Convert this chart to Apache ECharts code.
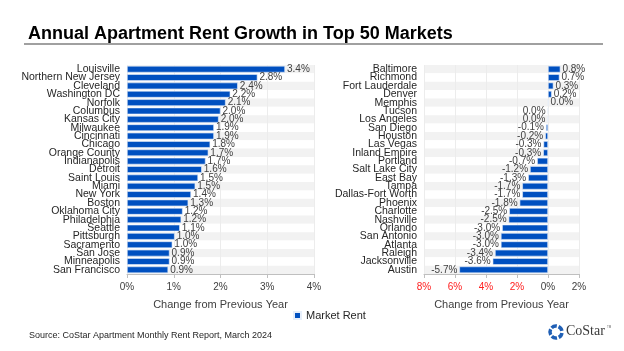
<!DOCTYPE html>
<html>
<head>
<meta charset="utf-8">
<script src="https://cdn.jsdelivr.net/npm/echarts@6/dist/echarts.min.js"></script>
<style>
  html, body { margin: 0; padding: 0; background: #fff; }
  #chart { width: 624px; height: 351px; }
</style>
</head>
<body>
<div id="chart"></div>
<script>
// top 25 markets (left panel)
const leftMarkets = ['Louisville', 'Northern New Jersey', 'Cleveland', 'Washington DC', 'Norfolk', 'Columbus',
  'Kansas City', 'Milwaukee', 'Cincinnati', 'Chicago', 'Orange County', 'Indianapolis', 'Detroit',
  'Saint Louis', 'Miami', 'New York', 'Boston', 'Oklahoma City', 'Philadelphia', 'Seattle',
  'Pittsburgh', 'Sacramento', 'San Jose', 'Minneapolis', 'San Francisco']
const leftGrowth = [3.38, 2.79, 2.37, 2.21, 2.11, 2.0, 1.96, 1.86, 1.86, 1.78, 1.74, 1.68, 1.6,
  1.52, 1.46, 1.37, 1.31, 1.19, 1.16, 1.13, 1.02, 0.97, 0.91, 0.91, 0.88]

// bottom 25 markets (right panel)
const rightMarkets = ['Baltimore', 'Richmond', 'Fort Lauderdale', 'Denver', 'Memphis', 'Tucson',
  'Los Angeles', 'San Diego', 'Houston', 'Las Vegas', 'Inland Empire', 'Portland', 'Salt Lake City',
  'East Bay', 'Tampa', 'Dallas-Fort Worth', 'Phoenix', 'Charlotte', 'Nashville', 'Orlando',
  'San Antonio', 'Atlanta', 'Raleigh', 'Jacksonville', 'Austin']
const rightGrowth = [0.8, 0.74, 0.35, 0.24, 0.02, -0.02, -0.03, -0.13, -0.18, -0.29, -0.31, -0.7, -1.16,
  -1.28, -1.66, -1.66, -1.83, -2.5, -2.54, -2.96, -3.04, -3.04, -3.42, -3.57, -5.72]

const leftTicks = { min: 0, max: 4, interval: 1 }
const rightTicks = { min: -8, max: 2, interval: 2 }

const FONT = '"Liberation Sans", Arial, sans-serif'
const BLUE = '#0050c0'

const pct = (v) => (Math.abs(v) < 0.05 ? 0 : v).toFixed(1) + '%'

function catAxis(gridIndex, names) {
  return {
    type: 'category',
    gridIndex: gridIndex,
    data: names,
    inverse: true,
    axisLine: { show: false },
    axisTick: { show: false },
    axisLabel: { color: '#262626', fontSize: 10.5, fontFamily: FONT, margin: 7, interval: 0 },
    splitArea: { show: true, areaStyle: { color: ['#f2f2f2', '#ffffff'] } }
  }
}

function valAxis(gridIndex, ticks, negRed) {
  return {
    type: 'value',
    gridIndex: gridIndex,
    min: ticks.min,
    max: ticks.max,
    interval: ticks.interval,
    name: 'Change from Previous Year',
    nameLocation: 'middle',
    nameGap: 25,
    nameTextStyle: { color: '#404040', fontSize: 11, fontFamily: FONT },
    axisLine: { show: true, lineStyle: { color: '#bfbfbf' } },
    axisTick: { show: true, length: 4, lineStyle: { color: '#bfbfbf' } },
    splitLine: { show: true, lineStyle: { color: '#ececec' } },
    axisLabel: {
      fontSize: 10,
      fontFamily: FONT,
      margin: 8,
      formatter: (v) => negRed && v < 0 ? '{neg|' + Math.abs(v) + '%}' : Math.abs(v) + '%',
      color: '#404040',
      rich: { neg: { color: '#ff2020', fontSize: 10, fontFamily: FONT } }
    }
  }
}

function barSeries(idx, values) {
  return {
    name: 'Market Rent',
    type: 'bar',
    xAxisIndex: idx,
    yAxisIndex: idx,
    barCategoryGap: '20%',
    itemStyle: { color: BLUE, borderColor: '#e6eefa', borderWidth: 0.6 },
    data: values.map(v => ({ value: v, label: { position: v < 0 ? 'left' : 'right' } })),
    label: {
      show: true,
      distance: 2,
      color: '#404040',
      fontSize: 10,
      fontFamily: FONT,
      formatter: (p) => pct(p.value)
    }
  }
}

const chart = echarts.init(document.getElementById('chart'))

chart.setOption({
  animation: false,
  textStyle: { fontFamily: FONT },
  title: [
    {
      text: 'Annual Apartment Rent Growth in Top 50 Markets',
      left: 23, top: 20,
      textStyle: { fontSize: 18, fontWeight: 'bold', color: '#000', fontFamily: FONT }
    },
    {
      text: 'Source: CoStar Apartment Monthly Rent Report, March 2024',
      left: 24, top: 326,
      textStyle: { fontSize: 9, fontWeight: 'normal', color: '#262626', fontFamily: FONT }
    }
  ],
  legend: {
    data: ['Market Rent'],
    left: 288, top: 305,
    icon: 'rect', itemWidth: 7, itemHeight: 7, itemGap: 4,
    textStyle: { fontSize: 11, color: '#262626', fontFamily: FONT }
  },
  grid: [
    { left: 127, top: 65, width: 187, height: 209 },
    { left: 424, top: 65, width: 155, height: 209 }
  ],
  xAxis: [valAxis(0, leftTicks, false), valAxis(1, rightTicks, true)],
  yAxis: [catAxis(0, leftMarkets), catAxis(1, rightMarkets)],
  series: [barSeries(0, leftGrowth), barSeries(1, rightGrowth)],
  graphic: [
    { type: 'line', shape: { x1: 24, y1: 44, x2: 603, y2: 44 }, style: { stroke: '#808080', lineWidth: 1.5 } },
    { type: 'arc', shape: { cx: 556, cy: 332, r: 6, startAngle: 0.15, endAngle: 1.1 }, style: { stroke: '#1f5fb5', lineWidth: 3.5, fill: 'none' } },
    { type: 'arc', shape: { cx: 556, cy: 332, r: 6, startAngle: 1.4, endAngle: 2.35 }, style: { stroke: '#1f5fb5', lineWidth: 3.5, fill: 'none' } },
    { type: 'arc', shape: { cx: 556, cy: 332, r: 6, startAngle: 2.65, endAngle: 3.6 }, style: { stroke: '#1f5fb5', lineWidth: 3.5, fill: 'none' } },
    { type: 'arc', shape: { cx: 556, cy: 332, r: 6, startAngle: 3.9, endAngle: 4.85 }, style: { stroke: '#1f5fb5', lineWidth: 3.5, fill: 'none' } },
    { type: 'arc', shape: { cx: 556, cy: 332, r: 6, startAngle: 5.15, endAngle: 6.1 }, style: { stroke: '#1f5fb5', lineWidth: 3.5, fill: 'none' } },
    { type: 'text', left: 566, top: 324, style: { text: 'CoStar', fontSize: 14, fontFamily: '"Liberation Serif", serif', fill: '#3a3a3a' } },
    { type: 'text', left: 607, top: 326, style: { text: 'TM', fontSize: 3, fontFamily: FONT, fill: '#666' } }
  ]
})
</script>
</body>
</html>
